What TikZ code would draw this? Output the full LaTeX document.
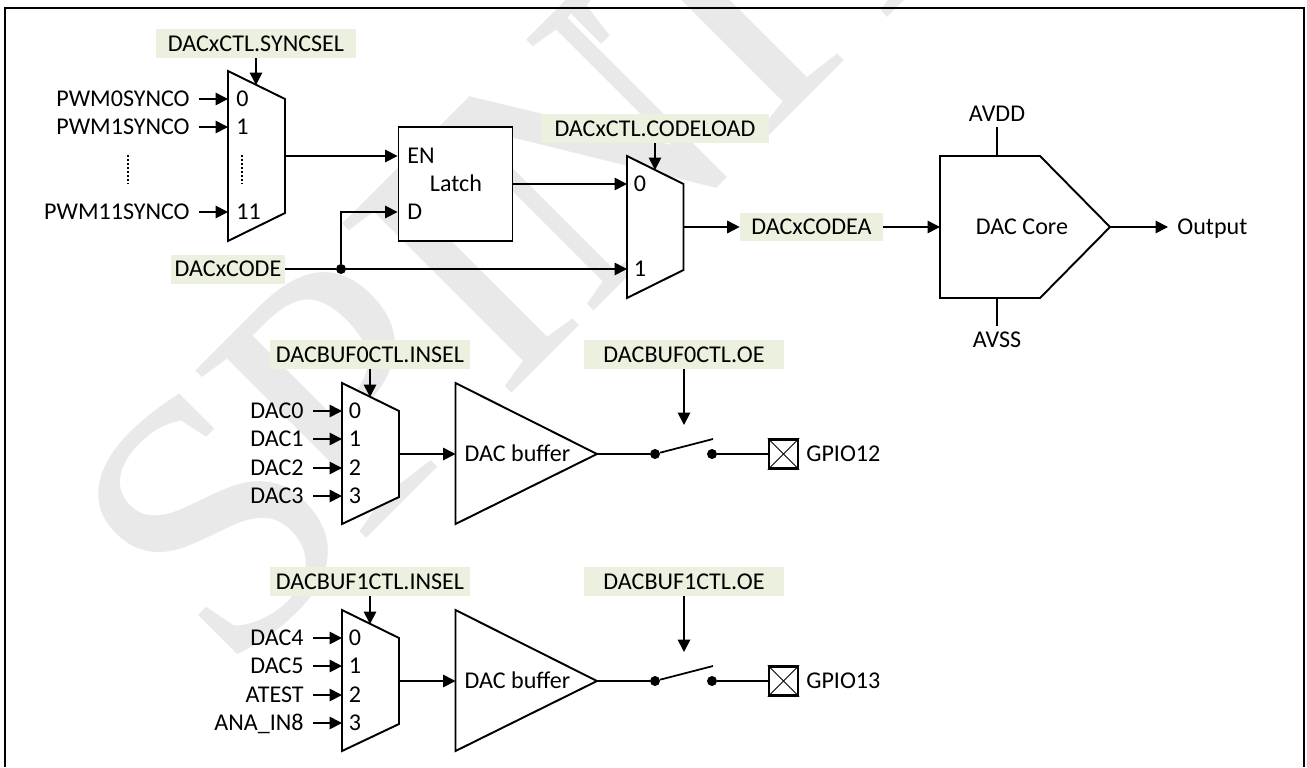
\documentclass[tikz,border=0pt]{standalone}
\usepackage{fontspec}
\setmainfont{Carlito}
\newfontfamily\markfont{Liberation Serif}
\usetikzlibrary{arrows.meta,positioning,calc}
\definecolor{RegGreen}{RGB}{235,241,222}
\definecolor{MarkGray}{RGB}{233,233,233}
\tikzset{
  markletter/.style={rotate=45,anchor=base west,text=MarkGray,font=\markfont\fontsize{208}{208}\selectfont,inner sep=0pt},
  labelfont/.style={font=\fontsize{13.7}{15}\selectfont,text height=8.8pt,text depth=0pt},
  reglabel/.style={labelfont,fill=RegGreen,inner sep=0pt,minimum width=#1,minimum height=0.58cm},
  sigtext/.style={labelfont,inner xsep=0.18cm,inner ysep=0pt},
  blocktext/.style={labelfont,inner sep=0pt},
  sig/.style={-{Triangle[length=2.5mm,width=2.5mm]},line width=1pt,draw=black},
  wire/.style={line width=1pt,draw=black},
  outline/.style={line width=1.1pt,draw=black,line join=miter,fill=white},
  pad/.style={draw,line width=1.3pt,minimum size=0.58cm,inner sep=0pt},
  padcross/.style={line width=0.45pt},
  junction/.style={circle,fill=black,inner sep=0pt,minimum size=0.2cm},
  dotted line/.style={line width=1pt,dash pattern=on 1.2pt off 1.07pt}
}
\begin{document}
\begin{tikzpicture}[x=0.02cm,y=-0.02cm]
\useasboundingbox (0,0) rectangle (1307,767);
\begin{scope}
\clip (0,0) rectangle (1307,767);
\node[markletter] (markS) at (226,679) {S};
\node[markletter] (markP) at (357,548) {P};
\node[markletter] (markI) at (502,403) {I};
\node[markletter,xscale=0.88] (markN) at (587.5,317.5) {N};
\node[markletter] (markT) at (726,179) {T};
\node[markletter] (markR) at (878,27) {R};
\end{scope}
\draw[line width=1.3pt] (5,767)--(5,8)--(1304,8)--(1304,767);

% upper row: sync mux
\coordinate (mA1) at (228,71);
\coordinate (mA2) at (285,99);
\coordinate (mA3) at (285,213);
\coordinate (mA4) at (228,241);
\draw[outline] (mA1)--(mA2)--(mA3)--(mA4)--cycle;
\coordinate (mAtop) at (256,85);
\coordinate (mAi0) at (228,99);
\coordinate (mAi1) at (228,127);
\coordinate (mAi2) at (228,212);
\coordinate (mAout) at (285,156);
\node[reglabel=4cm] (syncsel) at (256,43.5) {DACxCTL.SYNCSEL};
\node[sigtext,anchor=east] (pwm0) at (199,99) {PWM0SYNCO};
\node[sigtext,anchor=east] (pwm1) at (199,127) {PWM1SYNCO};
\node[sigtext,anchor=east] (pwm11) at (199,212) {PWM11SYNCO};
\node[blocktext,anchor=west] (mAn0) at (236,99) {0};
\node[blocktext,anchor=west] (mAn1) at (236,127) {1};
\node[blocktext,anchor=west] (mAn2) at (236,212) {11};
\draw[sig] (syncsel)--(mAtop);
\draw[sig] (pwm0)--(mAi0);
\draw[sig] (pwm1)--(mAi1);
\draw[sig] (pwm11)--(mAi2);
\draw[dotted line] (128,155)--(128,184);
\draw[dotted line] (242,155)--(242,184);

% latch
\node[draw,line width=1.1pt,fill=white,minimum width=2.28cm,minimum height=2.28cm,inner sep=0pt] (latch) at (455.5,184) {};
\node[blocktext] (latchname) at (456,184) {Latch};
\node[blocktext,anchor=west] (latchen) at (407,156) {EN};
\node[blocktext,anchor=west] (latchd) at (407,212) {D};
\coordinate (latchenpin) at (latch.west|-latchen);
\coordinate (latchdpin) at (latch.west|-latchd);
\draw[sig] (mAout)--(latchenpin);
\node[reglabel=2.28cm] (dacxcode) at (228,269) {DACxCODE};
\node[junction] (codedot) at (341,269) {};
\draw[wire] (dacxcode)--(codedot);
\draw[sig] (codedot) |- (latchdpin);

% code mux
\coordinate (mB1) at (627,156);
\coordinate (mB2) at (683.5,184);
\coordinate (mB3) at (683.5,270);
\coordinate (mB4) at (627,298);
\draw[outline] (mB1)--(mB2)--(mB3)--(mB4)--cycle;
\coordinate (mBtop) at (655,170);
\coordinate (mBi0) at (627,184);
\coordinate (mBi1) at (627,269);
\coordinate (mBout) at (683.5,227);
\node[reglabel=4.56cm] (codeload) at (655,128.5) {DACxCTL.CODELOAD};
\node[blocktext] (mBn0) at (640,184) {0};
\node[blocktext] (mBn1) at (640,269) {1};
\draw[sig] (codeload)--(mBtop);
\draw[sig] (latch.east|-mBi0)--(mBi0);
\draw[sig] (codedot)--(mBi1);

% dac core
\node[reglabel=2.86cm] (codea) at (811.5,227) {DACxCODEA};
\coordinate (core1) at (940,156);
\coordinate (core2) at (1040,156);
\coordinate (core3) at (1110,227);
\coordinate (core4) at (1040,298);
\coordinate (core5) at (940,298);
\coordinate (corein) at (940,227);
\coordinate (coretop) at (997,156);
\coordinate (corebot) at (997,298);
\coordinate (avddpin) at (997,127);
\coordinate (avsspin) at (997,326);
\draw[outline] (core1)--(core2)--(core3)--(core4)--(core5)--cycle;
\node[blocktext] (corename) at (1022,227) {DAC Core};
\node[blocktext] (avdd) at (997,114) {AVDD};
\node[blocktext] (avss) at (997,340) {AVSS};
\node[sigtext,anchor=west] (output) at (1168,227) {Output};
\draw[sig] (mBout)--(codea);
\draw[sig] (codea)--(corein);
\draw[wire] (coretop)--(avddpin);
\draw[wire] (corebot)--(avsspin);
\draw[sig] (core3)--(output);

% buffer 0
\coordinate (mC1) at (342,383);
\coordinate (mC2) at (399,411);
\coordinate (mC3) at (399,497);
\coordinate (mC4) at (342,524);
\draw[outline] (mC1)--(mC2)--(mC3)--(mC4)--cycle;
\coordinate (mCtop) at (370,397);
\coordinate (mCi0) at (342,411);
\coordinate (mCi1) at (342,439);
\coordinate (mCi2) at (342,468);
\coordinate (mCi3) at (342,496);
\coordinate (mCout) at (399,454);
\node[reglabel=4cm] (insel0) at (370,354.5) {DACBUF0CTL.INSEL};
\node[sigtext,anchor=east] (dac0) at (313,411) {DAC0};
\node[sigtext,anchor=east] (dac1) at (313,439) {DAC1};
\node[sigtext,anchor=east] (dac2) at (313,468) {DAC2};
\node[sigtext,anchor=east] (dac3) at (313,496) {DAC3};
\node[blocktext] (mCn0) at (355,411) {0};
\node[blocktext] (mCn1) at (355,439) {1};
\node[blocktext] (mCn2) at (355,468) {2};
\node[blocktext] (mCn3) at (355,496) {3};
\draw[sig] (insel0)--(mCtop);
\draw[sig] (dac0)--(mCi0);
\draw[sig] (dac1)--(mCi1);
\draw[sig] (dac2)--(mCi2);
\draw[sig] (dac3)--(mCi3);
\coordinate (bufC1) at (455.5,383);
\coordinate (bufC2) at (597,454);
\coordinate (bufC3) at (455.5,524);
\coordinate (bufCin) at (455.5,454);
\draw[outline] (bufC1)--(bufC2)--(bufC3)--cycle;
\node[blocktext] (bufCname) at (517.5,454) {DAC buffer};
\draw[sig] (mCout)--(bufCin);
\node[junction] (swC1) at (655,454) {};
\node[junction] (swC2) at (712,454) {};
\coordinate (swCtip) at (713,439);
\node[pad] (padC) at (783.5,454) {};
\node[blocktext,anchor=west] (gpio12) at (806,454) {GPIO12};
\node[reglabel=4cm] (oe0) at (684,354.5) {DACBUF0CTL.OE};
\coordinate (swCarrow) at (684,425);
\draw[sig] (oe0)--(swCarrow);
\draw[wire] (bufC2)--(swC1);
\draw[wire] (swC1)--(swCtip);
\draw[wire] (swC2)--(padC);
\draw[padcross] (padC.north west)--(padC.south east);
\draw[padcross] (padC.south west)--(padC.north east);

% buffer 1
\coordinate (mD1) at (342,610);
\coordinate (mD2) at (399,638);
\coordinate (mD3) at (399,724);
\coordinate (mD4) at (342,751);
\draw[outline] (mD1)--(mD2)--(mD3)--(mD4)--cycle;
\coordinate (mDtop) at (370,624);
\coordinate (mDi0) at (342,638);
\coordinate (mDi1) at (342,666);
\coordinate (mDi2) at (342,695);
\coordinate (mDi3) at (342,723);
\coordinate (mDout) at (399,681);
\node[reglabel=4cm] (insel1) at (370,581.5) {DACBUF1CTL.INSEL};
\node[sigtext,anchor=east] (dac4) at (313,638) {DAC4};
\node[sigtext,anchor=east] (dac5) at (313,666) {DAC5};
\node[sigtext,anchor=east] (atest) at (313,695) {ATEST};
\node[sigtext,anchor=east] (anain) at (313,723) {ANA\_IN8};
\node[blocktext] (mDn0) at (355,638) {0};
\node[blocktext] (mDn1) at (355,666) {1};
\node[blocktext] (mDn2) at (355,695) {2};
\node[blocktext] (mDn3) at (355,723) {3};
\draw[sig] (insel1)--(mDtop);
\draw[sig] (dac4)--(mDi0);
\draw[sig] (dac5)--(mDi1);
\draw[sig] (atest)--(mDi2);
\draw[sig] (anain)--(mDi3);
\coordinate (bufD1) at (455.5,610);
\coordinate (bufD2) at (597,681);
\coordinate (bufD3) at (455.5,751);
\coordinate (bufDin) at (455.5,681);
\draw[outline] (bufD1)--(bufD2)--(bufD3)--cycle;
\node[blocktext] (bufDname) at (517.5,681) {DAC buffer};
\draw[sig] (mDout)--(bufDin);
\node[junction] (swD1) at (655,681) {};
\node[junction] (swD2) at (712,681) {};
\coordinate (swDtip) at (713,666);
\node[pad] (padD) at (783.5,681) {};
\node[blocktext,anchor=west] (gpio13) at (806,681) {GPIO13};
\node[reglabel=4cm] (oe1) at (684,581.5) {DACBUF1CTL.OE};
\coordinate (swDarrow) at (684,652);
\draw[sig] (oe1)--(swDarrow);
\draw[wire] (bufD2)--(swD1);
\draw[wire] (swD1)--(swDtip);
\draw[wire] (swD2)--(padD);
\draw[padcross] (padD.north west)--(padD.south east);
\draw[padcross] (padD.south west)--(padD.north east);
\end{tikzpicture}
\end{document}
